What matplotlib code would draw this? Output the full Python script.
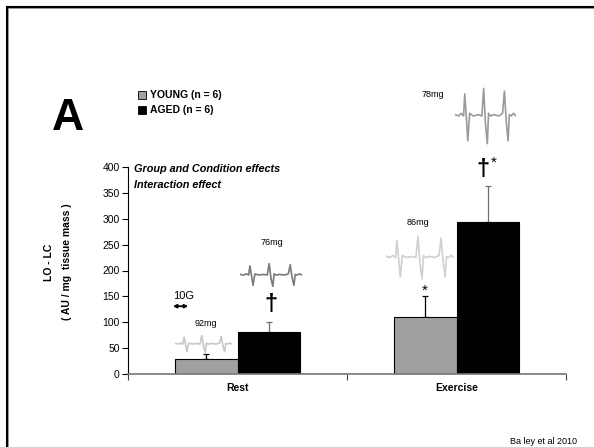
import matplotlib
matplotlib.use("Agg")
import matplotlib.pyplot as plt
from matplotlib.lines import Line2D

plt.rcParams['font.family'] = ['Liberation Sans', 'DejaVu Sans']

groups = ["Rest", "Exercise"]
young = [29, 110]
young_err = [9, 40]
aged = [81, 294]
aged_err = [20, 69]
yticks = [0, 50, 100, 150, 200, 250, 300, 350, 400]

# little EPR traces (decoration)
trace_x = [0, 0.06, 0.1, 0.14, 0.16, 0.19, 0.21, 0.24, 0.3, 0.38, 0.44, 0.47, 0.5, 0.53, 0.55, 0.58, 0.64, 0.72, 0.78, 0.81, 0.84, 0.87, 0.89, 0.92, 0.96, 1.0]
trace_y = [0.05, 0.0, 0.1, 0.0, 0.8, -0.2, -0.9, 0.1, 0.0, 0.05, 0.0, 1.0, -0.3, -1.0, 0.1, 0.0, 0.05, 0.0, 0.1, 0.9, -0.2, -0.9, 0.05, 0.0, 0.1, 0.0]

W, H = 594, 447
fig = plt.figure(figsize=(5.94, 4.47), dpi=100)

# slide frame
fig.add_artist(Line2D([8 / W, 8 / W], [0, 1 - 8 / H], color='#8a8a8a', lw=1.2, transform=fig.transFigure))
fig.add_artist(Line2D([8 / W, 1], [1 - 8 / H, 1 - 8 / H], color='#8a8a8a', lw=1.2, transform=fig.transFigure))
fig.add_artist(Line2D([6.5 / W, 6.5 / W], [0, 1 - 6.5 / H], color='black', lw=1.5, transform=fig.transFigure))
fig.add_artist(Line2D([6.5 / W, 1], [1 - 6.5 / H, 1 - 6.5 / H], color='black', lw=1.5, transform=fig.transFigure))

ax = fig.add_axes([128 / W, (H - 374) / H, 438 / W, 207 / H])

x = [0.5, 1.5]
w = 0.285
ax.bar([p - w / 2 for p in x], young, w, color='#a0a0a0', edgecolor='black', linewidth=0.8, zorder=2)
ax.bar([p + w / 2 for p in x], aged, w, color='black', edgecolor='black', linewidth=0.8, zorder=2)
ax.errorbar([p - w / 2 for p in x], young, yerr=[[0, 0], young_err], fmt='none', ecolor='black', elinewidth=0.9, capsize=2, capthick=0.9, zorder=1)
ax.errorbar([p + w / 2 for p in x], aged, yerr=[[0, 0], aged_err], fmt='none', ecolor='#707070', elinewidth=0.9, capsize=2, capthick=0.9, zorder=1)

ax.set_xlim(0, 2)
ax.set_ylim(0, 400)
ax.set_yticks(yticks)
ax.set_yticklabels([str(v) for v in yticks], fontsize=7.5)
ax.set_xticks([0, 1, 2])
ax.set_xticklabels([])
ax.tick_params(axis='y', direction='out', length=4, width=0.8, pad=2)
ax.tick_params(axis='x', direction='out', length=4, width=0.8, color='#404040')
ax.spines['top'].set_visible(False)
ax.spines['right'].set_visible(False)
ax.spines['bottom'].set_color('#777777')
ax.spines['bottom'].set_linewidth(1.2)
for p, g in zip(x, groups):
    ax.text(p, -28, g, ha='center', va='center', fontsize=7.5, fontweight='bold', clip_on=False)

ax.text(0.027, 396, "Group and Condition effects", fontsize=7.8, fontweight='bold', style='italic', va='center')
ax.text(0.027, 365, "Interaction effect", fontsize=7.8, fontweight='bold', style='italic', va='center')

ax.text(0.356, 98, "92mg", fontsize=6.5, ha='center', va='center')
ax.text(0.658, 255, "76mg", fontsize=6.5, ha='center', va='center')
ax.text(1.324, 292, "86mg", fontsize=6.5, ha='center', va='center')
ax.text(1.393, 541, "78mg", fontsize=6.5, ha='center', va='center', clip_on=False)
ax.text(0.256, 150, "10G", fontsize=8, ha='center', va='center')
ax.annotate("", xy=(0.205, 131), xytext=(0.275, 131),
            arrowprops=dict(arrowstyle='<->', lw=1.3, color='black', shrinkA=0, shrinkB=0, mutation_scale=5))

ax.text(0.653, 135, "\u2020", fontsize=17, fontweight='bold', ha='center', va='center')
ax.text(1.356, 160, "*", fontsize=11, ha='center', va='center')
ax.text(1.621, 395, "\u2020", fontsize=17, fontweight='bold', ha='center', va='center', clip_on=False)
ax.text(1.672, 408, "*", fontsize=11, ha='center', va='center', clip_on=False)

fig.text(49 / W, 1 - 262 / H, "LO - LC", rotation=90, fontsize=7.5, fontweight='bold', ha='center', va='center')
fig.text(67 / W, 1 - 262 / H, "( AU / mg  tissue mass )", rotation=90, fontsize=7.5, fontweight='bold', ha='center', va='center')

# traces
boxes = [(175, 335, 232, 353, '#c8c8c8'),
         (240, 263, 302, 287, '#7a7a7a'),
         (386, 235, 454, 280, '#d0d0d0'),
         (455, 87, 516, 145, '#9a9a9a')]
for x0, y0, x1, y1, c in boxes:
    tax = fig.add_axes([x0 / W, 1 - y1 / H, (x1 - x0) / W, (y1 - y0) / H])
    tax.plot(trace_x, trace_y, color=c, lw=1.2)
    tax.set_xlim(0, 1)
    tax.set_ylim(-1.05, 1.05)
    tax.axis('off')

# legend + panel letter
fig.text(68 / W, 1 - 119 / H, "A", fontsize=32, fontweight='bold', ha='center', va='center')
fig.add_artist(plt.Rectangle((138 / W, 1 - 99 / H), 8 / W, 8 / H, facecolor='#a0a0a0', edgecolor='black', lw=0.6, transform=fig.transFigure))
fig.add_artist(plt.Rectangle((138 / W, 1 - 114 / H), 8 / W, 8 / H, facecolor='black', edgecolor='black', lw=0.6, transform=fig.transFigure))
fig.text(150 / W, 1 - 95 / H, "YOUNG (n = 6)", fontsize=7.5, fontweight='bold', va='center')
fig.text(150 / W, 1 - 110 / H, "AGED (n = 6)", fontsize=7.5, fontweight='bold', va='center')

fig.text(544 / W, 1 - 441 / H, "Ba ley et al 2010", fontsize=6.5, ha='center', va='center')

fig.savefig("out.png", dpi=100)
